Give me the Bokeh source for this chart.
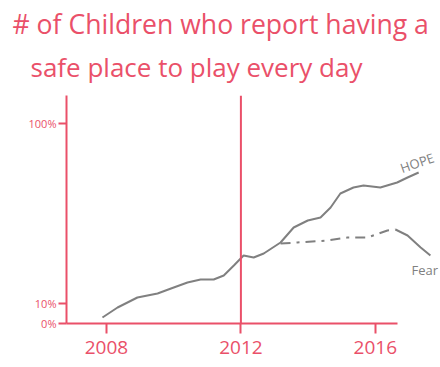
from bokeh.plotting import figure
from bokeh.models import Range1d, Span, Title, FixedTicker
from bokeh.core.properties import value
from bokeh.embed import file_html
from bokeh.resources import INLINE

# ---- data ----
title_line1 = "# of Children who report having a"
title_line2 = "safe place to play every day"

x_ticks = [2008, 2012, 2016]
x_tick_labels = ["2008", "2012", "2016"]
y_ticks = [0, 10, 100]
y_tick_labels = ["0%", "10%", "100%"]
divider_year = 2012

hope_years = [2007.88, 2008.33, 2008.92, 2009.52, 2009.92, 2010.41, 2010.80, 2011.19,
              2011.49, 2011.79, 2012.08, 2012.38, 2012.68, 2013.18, 2013.57, 2013.99,
              2014.37, 2014.67, 2014.96, 2015.35, 2015.65, 2016.15, 2016.65, 2016.96, 2017.29]
hope_pct = [3, 8, 13, 15, 17.5, 20.5, 22, 22, 24, 29, 34, 33, 35, 40.5, 48, 51.5,
            53, 58, 65, 68, 69, 68, 70.5, 73, 75.5]

fear_years = [2013.18, 2013.68, 2014.58, 2015.17, 2015.77, 2016.36, 2016.60, 2016.96, 2017.35, 2017.64]
fear_pct = [40, 40.5, 41.5, 43, 43, 46.5, 47, 44, 38, 34]
fear_dashed_until = 6  # index where the drawn dashes turn into a solid stroke

hope_label = "HOPE"
fear_label = "Fear"

# ---- style ----
RED = "#ea5069"
GRAY = "#808080"
FONT = "Open Sans"

p = figure(width=440, height=367, output_backend="svg", toolbar_location=None,
           x_range=Range1d(2006.81, 2017.94), y_range=Range1d(0, 114),
           min_border_left=66, min_border_right=0, min_border_bottom=44, min_border_top=95,
           outline_line_color=None, background_fill_color="white", border_fill_color="white")
p.grid.visible = False

# titles (line 2 first: later-added titles stack above)
t2 = Title(text=title_line2, text_font=FONT, text_font_size="26px", text_color=RED,
           text_font_style="normal", align="left", offset=-36, standoff=22)
p.add_layout(t2, "above")
t1 = Title(text=title_line1, text_font=FONT, text_font_size="26.6px", text_color=RED,
           text_font_style="normal", align="left", offset=-54, standoff=-13)
p.add_layout(t1, "above")

# x axis
xa = p.xaxis[0]
xa.ticker = FixedTicker(ticks=x_ticks)
xa.major_label_overrides = {t: l for t, l in zip(x_ticks, x_tick_labels)}
xa.bounds = (2006.81, 2016.66)
xa.axis_line_color = RED
xa.axis_line_width = 2
xa.major_tick_line_color = RED
xa.major_tick_line_width = 2
xa.major_tick_in = 0
xa.major_tick_out = 10
xa.minor_tick_line_color = None
xa.major_label_standoff = 7
xa.major_label_text_font = FONT
xa.major_label_text_font_size = "19px"
xa.major_label_text_color = RED

# y axis
ya = p.yaxis[0]
ya.ticker = FixedTicker(ticks=y_ticks)
ya.major_label_overrides = {t: l for t, l in zip(y_ticks, y_tick_labels)}
ya.axis_line_color = RED
ya.axis_line_width = 2
ya.major_tick_line_color = RED
ya.major_tick_line_width = 2
ya.major_tick_in = 0
ya.major_tick_out = 8
ya.minor_tick_line_color = None
ya.major_label_standoff = 2
ya.major_label_text_font = FONT
ya.major_label_text_font_size = "11px"
ya.major_label_text_color = RED

# 2012 divider
p.add_layout(Span(location=divider_year, dimension="height", line_color=RED, line_width=2))

# series
p.line(hope_years, hope_pct, line_color=GRAY, line_width=2)
p.line(fear_years[:fear_dashed_until + 1], fear_pct[:fear_dashed_until + 1],
       line_color=GRAY, line_width=2, line_dash="10 6 3 6")
p.line(fear_years[fear_dashed_until:], fear_pct[fear_dashed_until:],
       line_color=GRAY, line_width=2)

# series labels anchored to their last points
p.text(x=[hope_years[-1]], y=[hope_pct[-1]], text=[hope_label], x_offset=-18, y_offset=-4,
       angle=0.33, text_font=value(FONT), text_font_size="13px", text_color=GRAY,
       text_baseline="alphabetic", text_align="left")
p.text(x=[fear_years[-1]], y=[fear_pct[-1]], text=[fear_label], x_offset=-19, y_offset=14,
       text_font=value(FONT), text_font_size="13px", text_color=GRAY,
       text_baseline="alphabetic", text_align="left")

open("out.html", "w").write(file_html(p, INLINE))
